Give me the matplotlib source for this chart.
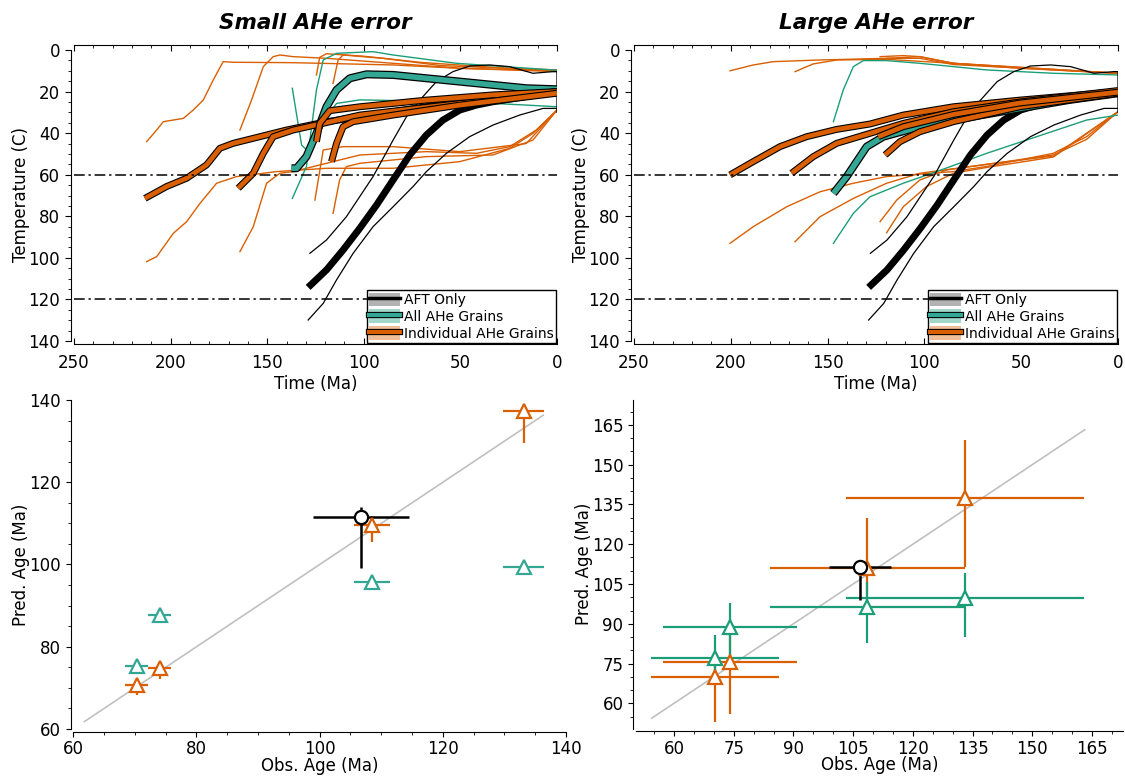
import numpy as np
import matplotlib
matplotlib.use("Agg")
import matplotlib.pyplot as plt
import matplotlib.patheffects as pe
from matplotlib.lines import Line2D
from matplotlib.patches import Patch
from matplotlib.ticker import MultipleLocator

TEAL = '#1b9e77'
TEAL_BEST = '#33a793'
ORANGE = '#d95f02'

# ---------------- time-temperature paths: (time Ma, temperature C) ----------------
# AFT-only inversion (same in both columns)
aft_best = np.array([(128.8, 114.2), (119.3, 105.8), (110.7, 96.2), (102.1, 85.8), (93.4, 74.6),
                     (84.8, 62.5), (76.2, 50.5), (67.6, 40.9), (59.0, 33.7), (50.3, 28.9),
                     (41.7, 26.5), (33.1, 24.9), (15.9, 22.4), (0.0, 20.0)])
aft_hi = np.array([(127.9, 97.8), (119.3, 91.4), (109.0, 80.2), (95.2, 60.9), (84.8, 43.3),
                   (77.9, 32.1), (71.0, 24.1), (62.4, 15.2), (53.8, 10.4), (45.2, 7.7),
                   (34.8, 7.2), (24.5, 8.0), (12.4, 11.2), (2.1, 10.4), (0.0, 10.4), (0.0, 30.0)])
aft_lo = np.array([(128.8, 129.9), (121.0, 121.9), (114.1, 110.6), (105.5, 97.8), (95.2, 85.0),
                   (84.8, 75.4), (74.5, 65.7), (67.6, 58.5), (57.2, 49.7), (45.2, 41.7),
                   (33.1, 36.1), (19.3, 31.3), (7.2, 28.1), (0.0, 28.1)])

# small AHe error: all grains together
small_all_best = np.array([(137.4, 56.9), (134.8, 56.9), (129.7, 51.3), (124.5, 40.1), (119.3, 27.3),
                           (114.1, 19.2), (107.2, 13.6), (98.6, 11.7), (84.8, 12.0), (67.6, 13.6),
                           (50.3, 15.2), (33.1, 16.8), (15.9, 18.4), (0.0, 18.9)])
small_all_hi = np.array([(137.0, 71.4), (129.7, 56.1), (124.5, 19.2), (121.0, 4.8), (114.1, 1.6),
                         (95.2, 0.8), (84.8, 2.4), (52.0, 6.4), (2.1, 9.6), (0.0, 9.6)])
small_all_lo = np.array([(137.0, 18.4), (132.2, 45.7), (129.7, 48.0), (126.0, 40.0), (120.0, 33.0),
                         (114.1, 25.7), (102.0, 24.0), (50.0, 24.9), (15.9, 26.5), (0.0, 27.3)])

# small AHe error: individual grains
small_grain_best = [
    np.array([(213.3, 71.4), (202.1, 65.7), (191.7, 61.7), (181.4, 55.3), (174.5, 47.3),
              (167.6, 44.9), (153.8, 41.7), (140.0, 38.5), (119.3, 34.5), (84.8, 29.7),
              (50.3, 24.9), (0.0, 20.0)]),
    np.array([(165.0, 66.5), (157.2, 59.3), (152.0, 49.7), (146.9, 41.7), (136.6, 38.5),
              (102.0, 31.3), (50.3, 25.7), (0.0, 20.0)]),
    np.array([(124.5, 44.1), (122.8, 35.3), (117.6, 29.2), (102.0, 27.3), (67.6, 24.1),
              (33.1, 21.6), (0.0, 20.0)]),
    np.array([(116.7, 53.7), (114.1, 44.9), (110.7, 36.9), (105.5, 34.5), (84.8, 31.3),
              (50.3, 26.5), (0.0, 20.8)]),
]
small_grain_hi = [
    np.array([(212.4, 44.1), (207.2, 38.5), (203.8, 34.5), (193.4, 32.9), (188.3, 28.9),
              (183.1, 24.1), (177.9, 14.4), (172.8, 5.6), (167.6, 5.9), (136.6, 6.1),
              (84.8, 7.2), (50.3, 8.8), (0.0, 10.4)]),
    np.array([(164.1, 38.5), (158.1, 24.1), (152.0, 8.0), (146.9, 3.2), (143.4, 2.4),
              (136.6, 3.2), (119.3, 4.0), (84.8, 6.4), (50.3, 8.8), (0.0, 10.0)]),
    np.array([(124.5, 12.0), (122.8, 3.5), (119.3, 1.8), (100.0, 3.0), (70.0, 6.0),
              (30.0, 8.5), (0.0, 9.6)]),
    np.array([(115.9, 16.0), (113.3, 4.8), (110.7, 2.4), (90.0, 4.0), (60.0, 7.5), (0.0, 9.8)]),
]
small_grain_lo = [
    np.array([(212.4, 101.8), (207.2, 99.4), (198.6, 88.2), (191.7, 82.6), (184.8, 73.8),
              (176.2, 64.1), (165.9, 60.9), (145.2, 58.5), (119.3, 56.9), (84.8, 56.9),
              (50.3, 53.7), (24.5, 47.3), (12.4, 40.1), (0.0, 28.9)]),
    np.array([(164.1, 97.0), (157.2, 85.0), (150.3, 64.1), (143.4, 59.3), (136.6, 58.5),
              (102.0, 50.5), (67.6, 48.9), (41.7, 49.7), (24.5, 46.5), (10.7, 38.5), (0.0, 28.9)]),
    np.array([(125.3, 72.2), (121.0, 48.1), (110.7, 46.5), (84.8, 46.5), (50.3, 48.9),
              (15.9, 45.0), (0.0, 28.9)]),
    np.array([(115.9, 78.6), (112.5, 62.5), (109.0, 56.1), (102.0, 54.5), (67.6, 51.3),
              (33.1, 50.5), (12.4, 43.3), (0.0, 28.9)]),
]

# large AHe error: all grains together
large_all_best = np.array([(147.0, 69.0), (140.2, 61.0), (136.7, 56.1), (129.8, 46.5), (121.2, 41.7),
                           (102.3, 36.9), (85.0, 33.7), (50.6, 28.1), (25.0, 24.0), (0.0, 20.8)])
large_all_hi = np.array([(147.0, 34.5), (141.9, 19.2), (136.7, 8.0), (131.5, 5.1), (119.5, 5.1),
                         (102.3, 6.4), (67.8, 9.6), (33.4, 11.2), (0.0, 12.0)])
large_all_lo = np.array([(147.0, 93.0), (136.7, 78.6), (128.1, 70.6), (110.9, 64.1), (93.7, 58.5),
                         (67.8, 49.7), (42.0, 41.7), (16.2, 33.7), (0.0, 31.3)])

# large AHe error: individual grains
large_grain_best = [
    np.array([(200.4, 60.1), (188.4, 53.7), (174.6, 46.5), (160.8, 41.7), (145.3, 38.2),
              (128.1, 35.6), (110.9, 31.3), (85.0, 27.3), (50.6, 24.1), (0.0, 20.0)]),
    np.array([(168.6, 59.3), (157.4, 51.3), (145.3, 44.9), (128.1, 40.1), (110.9, 35.3),
              (85.0, 29.7), (50.6, 25.0), (0.0, 19.5)]),
    np.array([(120.3, 50.5), (112.6, 44.1), (102.3, 39.3), (85.0, 34.5), (50.6, 27.3), (0.0, 20.8)]),
    np.array([(123.8, 41.7), (110.9, 36.9), (85.0, 31.0), (50.6, 25.5), (0.0, 20.3)]),
]
large_grain_hi = [
    np.array([(200.4, 10.0), (188.4, 7.2), (178.0, 5.6), (153.9, 4.8), (119.5, 4.0),
              (102.3, 3.2), (85.0, 6.4), (50.6, 8.8), (0.0, 11.2)]),
    np.array([(166.8, 10.4), (157.4, 6.7), (145.3, 4.8), (119.5, 4.5), (85.0, 6.4), (0.0, 11.2)]),
    np.array([(122.9, 3.2), (110.9, 2.7), (102.3, 3.2), (85.0, 6.4), (0.0, 11.2)]),
    np.array([(119.5, 4.0), (102.3, 4.0), (85.0, 7.0), (0.0, 11.2)]),
]
large_grain_lo = [
    np.array([(200.4, 93.0), (188.4, 85.0), (171.1, 75.4), (153.9, 68.2), (136.7, 64.1),
              (119.5, 60.9), (85.0, 58.5), (67.8, 56.0), (50.6, 52.9), (33.4, 49.7),
              (16.2, 41.7), (0.0, 29.7)]),
    np.array([(166.8, 92.2), (153.9, 80.2), (136.7, 71.4), (119.5, 64.1), (102.3, 59.3),
              (67.8, 55.0), (33.4, 50.5), (16.2, 43.0), (0.0, 29.7)]),
    np.array([(122.9, 82.6), (114.3, 72.2), (102.3, 62.5), (88.5, 57.7), (67.8, 55.0),
              (33.4, 51.0), (0.0, 29.7)]),
    np.array([(119.5, 87.9), (110.9, 75.4), (98.9, 65.7), (85.0, 59.3), (67.8, 56.5),
              (33.4, 51.5), (0.0, 29.7)]),
]

# ---------------- observed vs predicted ages (Ma) ----------------
aft_obs, aft_obs_err = 106.7, 7.8
aft_pred, aft_pred_lo, aft_pred_hi = 111.6, 12.5, 2.5

grain_obs = [133.1, 108.5, 74.0, 70.3]
small_obs_err = [3.4, 2.9, 1.9, 1.9]
large_obs_err = [29.9, 24.5, 16.8, 16.1]

small_grain_pred = [137.3, 109.7, 74.8, 70.7]
small_grain_pred_lo = [7.7, 4.3, 2.7, 2.4]
small_grain_pred_hi = [1.6, 2.0, 1.2, 1.3]
small_all_pred = [99.4, 95.7, 87.8, 75.2]
small_all_pred_lo = [0.4, 0.4, 0.4, 0.4]
small_all_pred_hi = [0.4, 0.4, 0.4, 0.4]

large_grain_pred = [137.3, 111.0, 75.7, 69.8]
large_grain_pred_lo = [25.8, 10.0, 19.8, 16.8]
large_grain_pred_hi = [22.0, 18.8, 14.0, 6.0]
large_all_pred = [99.6, 96.4, 88.9, 77.0]
large_all_pred_lo = [14.7, 13.8, 11.3, 7.0]
large_all_pred_hi = [9.4, 9.5, 8.8, 8.8]

small_one_to_one = [61.8, 136.3]
large_one_to_one = [54.4, 163.2]

plt.rcParams['font.family'] = 'DejaVu Sans'
plt.rcParams['font.size'] = 12

fig = plt.figure(figsize=(11.25, 7.76), dpi=100)


def outline(lw):
    return [pe.Stroke(linewidth=lw, foreground='black'), pe.Normal()]


def draw_paths(ax, all_best, all_hi, all_lo, grain_best, grain_hi, grain_lo, title):
    for p in grain_hi + grain_lo:
        ax.plot(p[:, 0], p[:, 1], color=ORANGE, lw=1.0)
    for p in (all_hi, all_lo):
        ax.plot(p[:, 0], p[:, 1], color=TEAL, lw=1.0)
    for p in (aft_hi, aft_lo):
        ax.plot(p[:, 0], p[:, 1], color='black', lw=0.9)
    ax.plot(aft_best[:, 0], aft_best[:, 1], color='black', lw=5, solid_capstyle='butt')
    ax.plot(all_best[:, 0], all_best[:, 1], color=TEAL_BEST, lw=4.0,
            solid_capstyle='butt', path_effects=outline(5.8))
    for p in grain_best:
        ax.plot(p[:, 0], p[:, 1], color=ORANGE, lw=3.4,
                solid_capstyle='butt', path_effects=outline(5.0))

    for temp in (60, 120):
        ax.axhline(temp, color='black', lw=1.1, dashes=(7, 2.5, 1.5, 2.5))

    ax.set_xlim(250, 0)
    ax.set_ylim(141.44, -2.55)
    ax.xaxis.set_major_locator(MultipleLocator(50))
    ax.xaxis.set_minor_locator(MultipleLocator(10))
    ax.yaxis.set_major_locator(MultipleLocator(20))
    ax.yaxis.set_minor_locator(MultipleLocator(5))
    ax.spines['right'].set_visible(False)
    ax.spines['left'].set_position(('outward', 2.5))
    ax.spines['left'].set_bounds(0, 140)
    ax.tick_params(axis='x', which='both', direction='in', top=True, pad=7)
    ax.tick_params(axis='x', which='major', length=4)
    ax.tick_params(axis='x', which='minor', length=2)
    ax.tick_params(axis='y', which='major', direction='out', length=4)
    ax.tick_params(axis='y', which='minor', direction='out', length=2)
    ax.set_xlabel('Time (Ma)', labelpad=2)
    ax.set_ylabel('Temperature (C)', labelpad=-1)
    ax.set_title(title, fontsize=15.5, fontweight='bold', style='italic', pad=11)

    handles = [
        (Patch(facecolor='black', alpha=0.3, edgecolor='none'),
         Line2D([], [], color='black', lw=2.5)),
        (Patch(facecolor=TEAL, alpha=0.4, edgecolor='none'),
         Line2D([], [], color=TEAL_BEST, lw=3, path_effects=outline(4.5))),
        (Patch(facecolor=ORANGE, alpha=0.4, edgecolor='none'),
         Line2D([], [], color=ORANGE, lw=3, path_effects=outline(4.5))),
    ]
    leg = ax.legend(handles, ['AFT Only', 'All AHe Grains', 'Individual AHe Grains'],
                    loc='lower right', fontsize=10, frameon=True, fancybox=False,
                    framealpha=1, edgecolor='black', borderpad=0.15, borderaxespad=0.1,
                    handlelength=2.2, handleheight=1.15, handletextpad=0.3,
                    labelspacing=0.15)
    leg.get_frame().set_linewidth(1.0)


def draw_ages(ax, obs_err, grain_pred, grain_lo, grain_hi, all_pred, all_lo, all_hi,
              all_color, one_to_one, xlim, ylim, step):
    ax.plot(one_to_one, one_to_one, color='#c0c0c0', lw=1.2)
    style = dict(fmt='^', ms=10.5, mew=1.6, mfc='white', elinewidth=1.6, capsize=0)
    ax.errorbar(grain_obs, grain_pred, xerr=obs_err, yerr=[grain_lo, grain_hi],
                color=ORANGE, mec=ORANGE, **style)
    ax.errorbar(grain_obs, all_pred, xerr=obs_err, yerr=[all_lo, all_hi],
                color=all_color, mec=all_color, **style)
    ax.errorbar([aft_obs], [aft_pred], xerr=[aft_obs_err], yerr=[[aft_pred_lo], [aft_pred_hi]],
                fmt='o', ms=9.5, mew=1.6, mfc='white', mec='black', color='black',
                elinewidth=1.8, capsize=0)

    ax.set_xlim(*xlim)
    ax.set_ylim(*ylim)
    ax.xaxis.set_major_locator(MultipleLocator(step))
    ax.yaxis.set_major_locator(MultipleLocator(step))
    ax.xaxis.set_minor_locator(MultipleLocator(5))
    ax.yaxis.set_minor_locator(MultipleLocator(5))
    for side in ('top', 'right'):
        ax.spines[side].set_visible(False)
    for side in ('left', 'bottom'):
        ax.spines[side].set_position(('outward', 2))
    ax.tick_params(which='major', direction='out', length=3.5)
    ax.tick_params(which='minor', direction='out', length=2)
    ax.tick_params(axis='x', pad=2.5)
    ax.set_xlabel('Obs. Age (Ma)', labelpad=-1)
    ax.set_ylabel('Pred. Age (Ma)', labelpad=-1)


ax_tl = fig.add_axes([0.06578, 0.5567, 0.4293, 0.3857])
ax_tr = fig.add_axes([0.56356, 0.5567, 0.4302, 0.3857])
ax_bl = fig.add_axes([0.06516, 0.06057, 0.43796, 0.42397])
ax_br = fig.add_axes([0.56533, 0.06121, 0.43289, 0.42332])

draw_paths(ax_tl, small_all_best, small_all_hi, small_all_lo,
           small_grain_best, small_grain_hi, small_grain_lo, 'Small AHe error')
draw_paths(ax_tr, large_all_best, large_all_hi, large_all_lo,
           large_grain_best, large_grain_hi, large_grain_lo, 'Large AHe error')

draw_ages(ax_bl, small_obs_err, small_grain_pred, small_grain_pred_lo, small_grain_pred_hi,
          small_all_pred, small_all_pred_lo, small_all_pred_hi, TEAL_BEST,
          small_one_to_one, (60, 140), (60, 140), 20)
draw_ages(ax_br, large_obs_err, large_grain_pred, large_grain_pred_lo, large_grain_pred_hi,
          large_all_pred, large_all_pred_lo, large_all_pred_hi, TEAL,
          large_one_to_one, (50.45, 172.8), (50.5, 174.4), 15)

fig.savefig('out.png', dpi=100)
